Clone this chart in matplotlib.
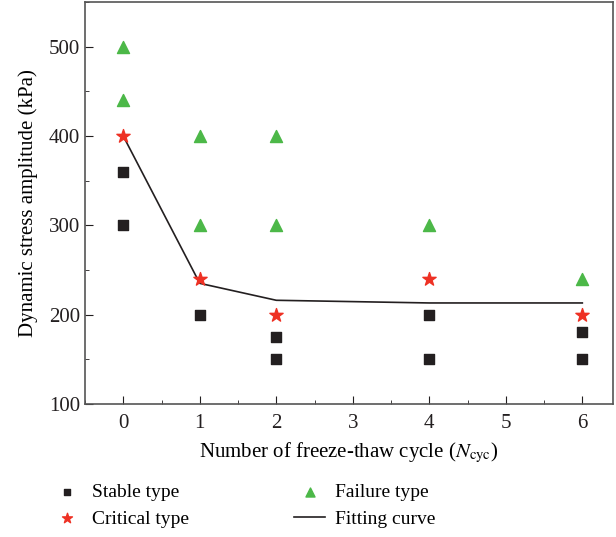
import numpy as np
import matplotlib.pyplot as plt
from matplotlib.ticker import MultipleLocator

plt.rcParams['font.family'] = ['Liberation Serif', 'DejaVu Serif']
plt.rcParams['mathtext.fontset'] = 'stix'

# Data
stable_x = [0, 0, 1, 2, 2, 4, 4, 6, 6]
stable_y = [360, 300, 200, 175, 150, 200, 150, 180, 150]

critical_x = [0, 1, 2, 4, 6]
critical_y = [400, 240, 200, 240, 200]

failure_x = [0, 0, 1, 1, 2, 2, 4, 6]
failure_y = [500, 440, 400, 300, 400, 300, 300, 240]

fit_x = [0, 1, 2, 4, 6]
fit_y = [400, 235, 216, 213, 213]

fig = plt.figure(figsize=(6.16, 5.37), dpi=100)
ax = fig.add_axes([0.138, 0.248, 0.857, 0.748])

line, = ax.plot(fit_x, fit_y, color='#231f20', lw=1.2, zorder=2)
s1 = ax.scatter(stable_x, stable_y, marker='s', s=42, color='#231f20', zorder=3)
s2 = ax.scatter(critical_x, critical_y, marker='*', s=100, color='#ee3124', zorder=3)
s3 = ax.scatter(failure_x, failure_y, marker='^', s=75, color='#4cb848', zorder=3)

ax.set_xlim(-0.5, 6.4)
ax.set_ylim(100, 550)
ax.set_xticks([0, 1, 2, 3, 4, 5, 6])
ax.set_yticks([100, 200, 300, 400, 500])
ax.xaxis.set_minor_locator(MultipleLocator(0.5))
ax.yaxis.set_minor_locator(MultipleLocator(50))
ax.tick_params(which='both', direction='in', labelsize=15, colors='#231f20')
ax.tick_params(axis='x', pad=7)
ax.tick_params(which='major', length=6)
ax.tick_params(which='minor', length=3)
for sp in ax.spines.values():
    sp.set_color('#555555')
    sp.set_linewidth(1.2)

ax.set_xlabel(r'Number of freeze-thaw cycle ($N_{\mathrm{cyc}}$)', fontsize=15, labelpad=6)
ax.set_ylabel('Dynamic stress amplitude (kPa)', fontsize=15, labelpad=8)

fig.legend([s1, s2, s3, line],
           ['Stable type', 'Critical type', 'Failure type', 'Fitting curve'],
           ncol=2, loc='upper left', bbox_to_anchor=(0.055, 0.132),
           frameon=False, fontsize=14, columnspacing=5.4,
           handlelength=1.6, handletextpad=0.5, labelspacing=0.45,
           scatterpoints=1, markerscale=0.75)

fig.savefig('out.png', dpi=100)
